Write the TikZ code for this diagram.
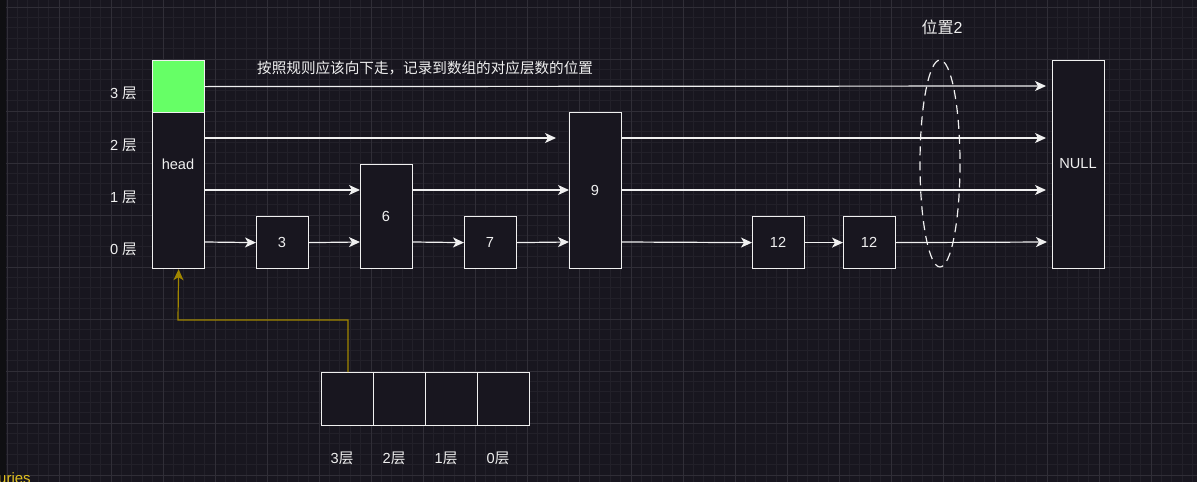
\documentclass[tikz,border=0pt]{standalone}
\usepackage{fontspec}
\setmainfont{Liberation Sans}
\newfontfamily\cjk{Noto Sans CJK SC}
\usetikzlibrary{arrows.meta}
\definecolor{bg}{HTML}{18161F}
\definecolor{strip}{HTML}{0F0F12}
\definecolor{gminor}{HTML}{222029}
\definecolor{gmajor}{HTML}{302E37}
\definecolor{fg}{HTML}{F0F0F0}
\definecolor{green1}{HTML}{66FF66}
\definecolor{olive}{HTML}{A08600}
\definecolor{yel}{HTML}{E0C020}
\tikzset{
  box/.style={draw=fg, line width=1.2pt, fill=bg, text=fg, inner sep=0pt, anchor=north west},
  tipstyle/.style={-{Stealth[length=11pt,width=10pt,inset=3pt]}},
  link/.style={draw=fg, line width=1.2pt, tipstyle},
  lbl/.style={text=fg, inner sep=0pt, font=\fontsize{14.6}{17}\selectfont},
}
\begin{document}
\begin{tikzpicture}[x=1pt,y=-1pt]
\useasboundingbox (0,0) rectangle (1197,482);
\fill[bg] (0,0) rectangle (1197,482);
% grid
\foreach \i in {0,...,115} {
  \draw[gminor, line width=0.8pt] ({7+10.4*\i},0) -- ({7+10.4*\i},482);
}
\foreach \j in {0,...,46} {
  \draw[gminor, line width=0.8pt] (0,{7+10.4*\j}) -- (1197,{7+10.4*\j});
}
\foreach \i in {0,...,23} {
  \draw[gmajor, line width=0.9pt] ({7+52*\i},0) -- ({7+52*\i},482);
}
\foreach \j in {0,...,9} {
  \draw[gmajor, line width=0.9pt] (0,{7+52*\j}) -- (1197,{7+52*\j});
}
\fill[strip] (0,0) rectangle (6,482);
\node[text=yel, anchor=base west, inner sep=0pt, font=\fontsize{15}{17}\selectfont] (uries) at (-2,483) {uries};

% head column
\node[box, fill=green1, minimum width=52pt, minimum height=52pt] (top) at (152,60) {};
\node[box, minimum width=52pt, minimum height=156pt] (head) at (152,112) {};
\node[lbl] (headtxt) at (178,164) {head};

% level labels
\node[lbl, anchor=east] (l3) at (137,93) {3 {\cjk 层}};
\node[lbl, anchor=east] (l2) at (137,145) {2 {\cjk 层}};
\node[lbl, anchor=east] (l1) at (137,197) {1 {\cjk 层}};
\node[lbl, anchor=east] (l0) at (137,249) {0 {\cjk 层}};

% nodes
\node[box, minimum width=52pt, minimum height=52pt] (n3) at (256,216) {};
\node[lbl] at (282,242) {3};
\node[box, minimum width=52pt, minimum height=104pt] (n6) at (360,164) {};
\node[lbl] at (386,216) {6};
\node[box, minimum width=52pt, minimum height=52pt] (n7) at (464,216) {};
\node[lbl] at (490,242) {7};
\node[box, minimum width=52pt, minimum height=156pt] (n9) at (569,112) {};
\node[lbl] at (595,190) {9};
\node[box, minimum width=52pt, minimum height=52pt] (n12a) at (752,216) {};
\node[lbl] at (778,242) {12};
\node[box, minimum width=52pt, minimum height=52pt] (n12b) at (843,216) {};
\node[lbl] at (869,242) {12};
\node[box, minimum width=52pt, minimum height=208pt] (null) at (1052,60) {};
\node[lbl] at (1078,164) {NULL};

% endpoints
\coordinate (e3) at (1046,86);
\coordinate (e2a) at (556,138);
\coordinate (e2) at (1046,138);
\coordinate (e1) at (1046,190);
\coordinate (e0) at (1047,242);

% level 3
\draw[link] (top.east) -- (e3);
% level 2
\draw[link] (head.east |- 0,138) -- (e2a);
\draw[link] (n9.east |- 0,138) -- (e2);
% level 1
\draw[link] (head.east |- 0,190) -- (n6.west |- 0,190);
\draw[link] (n6.east |- 0,190) -- (n9.west |- 0,190);
\draw[link] (n9.east |- 0,190) -- (e1);
% level 0
\draw[link] (head.east |- 0,242) -- (n3.west);
\draw[link] (n3.east) -- (n6.west |- 0,242);
\draw[link] (n6.east |- 0,242) -- (n7.west);
\draw[link] (n7.east) -- (n9.west |- 0,242);
\draw[link] (n9.east |- 0,242) -- (n12a.west);
\draw[link] (n12a.east) -- (n12b.west);
\draw[link] (n12b.east) -- (e0);

% dashed ellipse
\draw[fg, line width=1.2pt, dash pattern=on 9pt off 6pt] (940,163.5) ellipse [x radius=20, y radius=103.5];
\node[lbl, font=\fontsize{16}{18}\selectfont] (pos2) at (942,27) {{\cjk 位置}2};

% note
\node[lbl, anchor=west, font=\cjk\fontsize{14.6}{17}\selectfont] (note) at (257,68) {按照规则应该向下走，记录到数组的对应层数的位置};

% array
\foreach \k/\t [count=\c] in {321/3,373/2,425/1,477/0} {
  \node[box, minimum width=52pt, minimum height=53pt] (a\c) at (\k,372) {};
  \node[lbl] at ({\k+21},458) {\t{\cjk 层}};
}
% olive pointer
\draw[olive, line width=1.2pt, tipstyle] (a1.north -| 348,0) -- (348,320) -- (178,320) -- (head.south);
\end{tikzpicture}
\end{document}
